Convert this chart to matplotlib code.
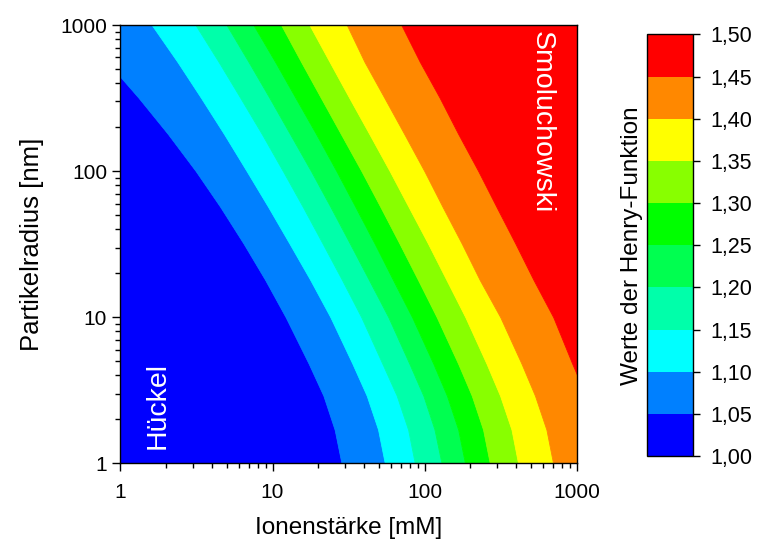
import numpy as np
import matplotlib
matplotlib.use('Agg')
import matplotlib.pyplot as plt
from matplotlib.colors import ListedColormap, BoundaryNorm
from matplotlib.cm import ScalarMappable

plt.rcParams['font.family'] = ['Liberation Sans', 'DejaVu Sans']

radius = [1, 1.7, 2.9, 4.8, 10, 18, 32, 57, 100, 180, 320, 560, 1000]

# Ionenstaerke [mM] der Konturgrenzen (1,05 ... 1,45), je Radius
b105 = [28.4, 25.6, 21.6, 17.3, 12.2, 8.95, 6.44, 4.53, 3.13, 2.05, 1.31, 0.82, 0.49]
b110 = [54.7, 49.4, 41.6, 33.5, 24.0, 17.7, 12.9, 9.35, 6.76, 4.79, 3.37, 2.37, 1.61]
b115 = [86.1, 77.8, 65.5, 52.7, 38.3, 28.6, 21.3, 15.8, 11.7, 8.49, 6.11, 4.42, 3.12]
b120 = [129, 116, 98, 79.3, 57.7, 43.0, 32.2, 24.0, 17.9, 13.0, 9.5, 6.95, 4.99]
b125 = [184, 166, 140, 114, 82.6, 61.9, 46.8, 35.0, 26.3, 19.3, 14.1, 10.4, 7.5]
b130 = [268, 242, 204, 166, 120, 90.4, 68.2, 51.1, 38.4, 28.1, 20.7, 15.4, 11.4]
b135 = [411, 372, 313, 255, 185, 139, 105, 78.3, 58.9, 43.2, 31.8, 23.7, 17.5]
b140 = [698, 631, 531, 433, 314, 230, 175, 131, 99.5, 73.3, 54.1, 40.2, 30.8]
b145 = [1514, 1349, 1148, 933, 700, 519, 394, 296, 225, 166, 125, 92.9, 70.3]

levels = [1.00, 1.05, 1.10, 1.15, 1.20, 1.25, 1.30, 1.35, 1.40, 1.45, 1.50]
colors = ['#0000ff', '#0080ff', '#00ffff', '#00ffaa', '#00ff50',
          '#00ff00', '#88ff00', '#ffff00', '#ff8800', '#ff0000']

xmin, xmax = 1, 1000
bounds = [b105, b110, b115, b120, b125, b130, b135, b140, b145]

fig = plt.figure(figsize=(7.62, 5.45), dpi=100)
ax = fig.add_axes([0.158, 0.150, 0.599, 0.804])

r = np.array(radius)
edges = [np.full(len(r), 0.3)] + [np.array(b) for b in bounds] + [np.full(len(r), 5000.0)]
for i in range(len(colors)):
    ax.fill_betweenx(r, edges[i], edges[i + 1], facecolor=colors[i],
                     edgecolor=colors[i], lw=0.6)

ax.set_xscale('log')
ax.set_yscale('log')
ax.set_xlim(xmin, xmax)
ax.set_ylim(1, 1000)
ax.set_xticks([1, 10, 100, 1000])
ax.set_xticklabels(['1', '10', '100', '1000'])
ax.set_yticks([1, 10, 100, 1000])
ax.set_yticklabels(['1', '10', '100', '1000'])
ax.tick_params(which='major', length=6, width=1, labelsize=15, direction='out')
ax.tick_params(which='minor', length=3.5, width=1, direction='out')
ax.tick_params(axis='x', pad=8)
ax.set_xlabel('Ionenstärke [mM]', fontsize=17.5, labelpad=11)
ax.set_ylabel('Partikelradius [nm]', fontsize=18.5, labelpad=12)
for s in ax.spines.values():
    s.set_linewidth(1.0)
    s.set_zorder(5)

ax.text(1.75, 2.5, 'Hückel', color='white', fontsize=20.5, rotation=90,
        ha='center', va='center')
ax.text(590, 215, 'Smoluchowski', color='white', fontsize=20.5, rotation=270,
        ha='center', va='center')

cax = fig.add_axes([0.849, 0.163, 0.061, 0.774])
cmap = ListedColormap(colors)
norm = BoundaryNorm(levels, cmap.N)
sm = ScalarMappable(norm=norm, cmap=cmap)
cb = fig.colorbar(sm, cax=cax, ticks=levels)
cb.ax.set_yticklabels([f'{v:.2f}'.replace('.', ',') for v in levels])
cb.ax.tick_params(labelsize=15.5, length=5, width=1, direction='out', pad=7)
cb.outline.set_linewidth(1.0)
cb.ax.yaxis.set_label_position('left')
cb.set_label('Werte der Henry-Funktion', fontsize=17.5, labelpad=3)

fig.savefig('out.png', dpi=100)
